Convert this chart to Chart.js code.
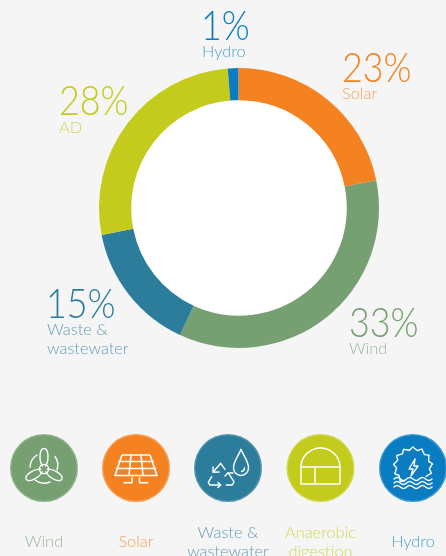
<!DOCTYPE html>
<html>
<head>
<meta charset="utf-8">
<style>
  html, body { margin: 0; padding: 0; background: #f5f5f5; overflow: hidden; }
  #wrap { position: relative; width: 446px; height: 556px; font-family: Lato, sans-serif; font-weight: 300; }
  canvas { position: absolute; left: 0; top: 0; }
  .pct { position: absolute; font-size: 41px; line-height: 41px; white-space: nowrap; transform: scaleX(.875); transform-origin: left top; }
  .sub { position: absolute; font-size: 16.4px; line-height: 18px; white-space: nowrap; opacity: .72; }
  .cap { position: absolute; font-size: 16.4px; line-height: 18px; text-align: center; width: 110px; opacity: .72; }
  svg.icon { position: absolute; left: 0; top: 0; }
  svg.icon * { fill: none; stroke: #fff; stroke-width: 1.4; stroke-linecap: round; stroke-linejoin: round; }
</style>
</head>
<body>
<div id="wrap">
  <canvas id="myChart" width="446" height="556"></canvas>
  <svg class="icon" width="446" height="556" id="icons"></svg>
</div>
<script src="https://cdn.jsdelivr.net/npm/chart.js@4"></script>
<script>
const categories = ['Solar', 'Wind', 'Waste & wastewater', 'AD', 'Hydro'];
const printedShares = ['23%', '33%', '15%', '28%', '1%'];
// the arcs in the picture are not quite the printed numbers, these are read off the ring
const arcShares = [21.9, 35.1, 15, 26.8, 1.2];
const colors = ['#f58220', '#76a072', '#2c7c9c', '#c3cc1c', '#0a7dc2'];

const sliceLabels = [['Solar'], ['Wind'], ['Waste &', 'wastewater'], ['AD'], ['Hydro']];
const pctPos = [[342, 46], [349, 301], [46, 282], [59, 79], [201, 4]];
const subPos = [[342, 84], [349, 339], [47, 320], [59, 118], [202, 42]];

const iconNames = ['Wind', 'Solar', 'Waste &\nwastewater', 'Anaerobic\ndigestion', 'Hydro'];
const iconColors = ['#76a072', '#f58220', '#2c7c9c', '#c3cc1c', '#0a7dc2'];
const iconX = [44, 136, 228, 320.5, 413];

const whiteHole = {
  id: 'whiteHole',
  beforeDatasetsDraw(chart) {
    const arc = chart.getDatasetMeta(0).data[0];
    const g = chart.ctx;
    g.save();
    g.fillStyle = '#ffffff';
    g.beginPath();
    g.arc(arc.x, arc.y, arc.innerRadius + 1, 0, Math.PI * 2);
    g.fill();
    g.restore();
  }
};

new Chart(document.getElementById('myChart'), {
  type: 'doughnut',
  data: {
    labels: categories,
    datasets: [{ data: arcShares, backgroundColor: colors, borderWidth: 0 }]
  },
  options: {
    responsive: false,
    animation: false,
    cutout: '77%',
    rotation: -0.3,
    layout: { padding: { left: 99, right: 67, top: 68, bottom: 208 } },
    plugins: { legend: { display: false }, tooltip: { enabled: false } }
  },
  plugins: [whiteHole]
});

const wrap = document.getElementById('wrap');
function addText(cls, txt, x, y, color) {
  const d = document.createElement('div');
  d.className = cls;
  d.textContent = txt;
  d.style.left = x + 'px';
  d.style.top = y + 'px';
  d.style.color = color;
  wrap.appendChild(d);
}

printedShares.forEach((p, i) => {
  addText('pct', p, pctPos[i][0], pctPos[i][1], colors[i]);
  sliceLabels[i].forEach((line, j) => {
    addText('sub', line, subPos[i][0], subPos[i][1] + j * 18.5, colors[i]);
  });
});

iconNames.forEach((name, i) => {
  const lines = name.split('\n');
  lines.forEach((line, j) => {
    const y = lines.length === 1 ? 532 : 523 + j * 18.5;
    addText('cap', line, iconX[i] - 55, y, iconColors[i]);
  });
});

// icon drawings, centred on 0,0 inside each 34px circle
let gear = '';
for (let k = 0; k < 13; k++) {
  if (k >= 5 && k <= 7) continue;
  const a = (k / 13) * Math.PI * 2 - 0.2;
  const b = a + (0.45 / 13) * Math.PI * 2;
  const c = a + Math.PI * 2 / 13;
  gear += `M${(16.5 * Math.sin(a)).toFixed(1)} ${(-1.5 - 16.5 * Math.cos(a)).toFixed(1)}` +
    `Q${(21 * Math.sin(b)).toFixed(1)} ${(-1.5 - 21 * Math.cos(b)).toFixed(1)} ${(19 * Math.sin(b)).toFixed(1)} ${(-1.5 - 19 * Math.cos(b)).toFixed(1)}` +
    `L${(16.5 * Math.sin(c)).toFixed(1)} ${(-1.5 - 16.5 * Math.cos(c)).toFixed(1)}`;
}
const wave = y => `M-19 ${y}q3 -3 6.3 0t6.3 0t6.4 0t6.3 0t6.3 0t6.4 0`;
const blade = 'M-1.5 -3C-5.5 -9 -4.5 -20.5 0 -20.5C4.5 -20.5 5.5 -9 1.5 -3';
const drawings = [
  '<circle cx="0" cy="1" r="4.6"/>' +
  `<g transform="translate(0 1)"><path d="${blade}"/><path d="${blade}" transform="rotate(120)"/><path d="${blade}" transform="rotate(240)"/></g>` +
  '<path d="M-14 -1A15 15 0 0 1 -7 -13M11 -11.5A15 15 0 0 1 13 2M-9 12A15 15 0 0 0 6 14"/>',

  '<path d="M-14 -13H14L21 7.5H-21Z" style="stroke-width:1.6"/><path d="M-17 -6.5H17M-19.5 0.5H19.5M-5 -13L-7 7.5M5 -13L7 7.5" style="stroke-width:1.6"/>' +
  '<path d="M-4 9.7V14.7H-12M3.5 9.7V14.7H11.7" style="stroke-width:1.6"/>',

  '<path d="M13 -18.7C16 -11 20.5 -7 20.5 0A7.5 7.5 0 0 1 5.5 0C5.5 -7 10 -11 13 -18.7Z"/><path d="M16.5 0A3.5 3.5 0 0 1 13.5 3.5"/>' +
  '<path d="M-3 1.3L-7.3 -4.7L-15 4.3M-15 4.3L-15 -1M-15 4.3L-9 4"/>' +
  '<path d="M-16.3 8.7L-19.7 14.3L-18.3 17H-7.3M-7.3 17L-10 14.5M-7.3 17L-10 19.5"/>' +
  '<path d="M0 4.7L6 13.7L4.3 17H-1.7M0 4.7L-3 8M0 4.7L5 5"/>',

  '<path d="M-19.5 16V-1C-19.5 -12 -10 -20 0 -20C10 -20 19.5 -12 19.5 -1V16Z"/><path d="M-19.5 -1H19.5M-5.5 -1V16"/>',

  '<path d="' + gear + '"/><path d="M2 -9L-4 1H0L-2 8L5 -2H1Z"/>' +
  '<path d="' + wave(11) + '"/><path d="' + wave(15) + '"/><path d="' + wave(19) + '"/>'
];

let svgHtml = '';
iconX.forEach((x, i) => {
  svgHtml += `<g transform="translate(${x} 468)"><circle cx="0" cy="0" r="34" style="fill:${iconColors[i]};stroke:none"/>` +
    `<circle cx="0" cy="0" r="33.3" style="stroke:#fff;stroke-opacity:.35;stroke-width:.8"/>${drawings[i]}</g>`;
});
document.getElementById('icons').innerHTML = svgHtml;
</script>
</body>
</html>
